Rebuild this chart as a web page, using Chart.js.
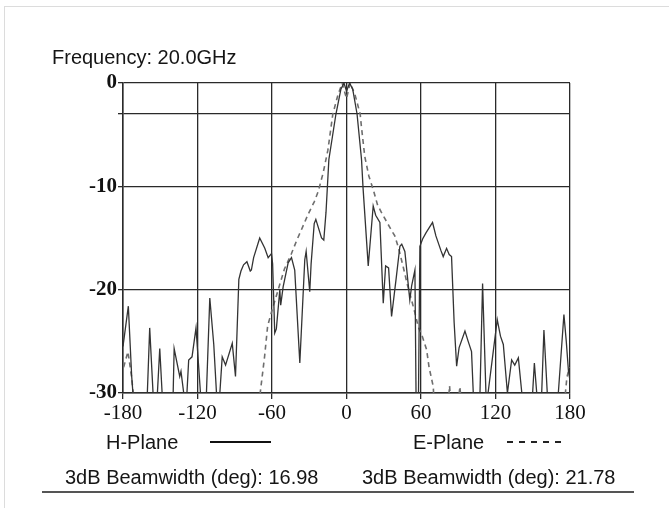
<!DOCTYPE html>
<html>
<head>
<meta charset="utf-8">
<script src="https://cdn.jsdelivr.net/npm/chart.js@4"></script>
<style>
  html, body { margin: 0; padding: 0; background: #fff; }
  #wrap { position: relative; width: 669px; height: 508px; overflow: hidden; background: #fff; }
  #frame { position: absolute; left: 4px; top: 6px; width: 700px; height: 600px; border-left: 1px solid #dcdcdc; border-top: 1px solid #dcdcdc; }
  canvas { position: absolute; left: 0; top: 0; }
  .t { position: absolute; font-family: "Liberation Sans", Arial, sans-serif; font-size: 20px; line-height: 24px; color: #151515; white-space: nowrap; }
  #rule { position: absolute; left: 42px; top: 491px; width: 592px; height: 2px; background: #555; }
</style>
</head>
<body>
<div id="wrap">
  <div id="frame"></div>
  <canvas id="c" width="669" height="508"></canvas>
  <div class="t" id="title" style="left:52px; top:45px;">Frequency: 20.0GHz</div>
  <div class="t" style="left:106px; top:430px;">H-Plane</div>
  <svg style="position:absolute; left:205px; top:436px;" width="70" height="12"><line x1="5" y1="6" x2="66" y2="6" stroke="#111" stroke-width="2"/></svg>
  <div class="t" style="left:413px; top:430px;">E-Plane</div>
  <svg style="position:absolute; left:503px; top:436px;" width="70" height="12"><line x1="4" y1="6" x2="62" y2="6" stroke="#222" stroke-width="2" stroke-dasharray="6,6"/></svg>
  <div class="t" style="left:65px; top:465px;">3dB Beamwidth (deg): 16.98</div>
  <div class="t" style="left:362px; top:465px;">3dB Beamwidth (deg): 21.78</div>
  <div id="rule"></div>
</div>
<script>
// ---- data ----
const xTicks = [-180, -120, -60, 0, 60, 120, 180];
const yGridValues = [-30, -20, -10, -3, 0];
const yLabelValues = [-30, -20, -10, 0];

const hPlaneAngles = [
  -180, -175.7, -173, -172, -160.4, -158.5, -155.8, -152.3, -150.4, -148.5,
  -139.6, -138.8, -134.3, -133.3, -131.1, -128.5, -127.1, -124.4, -121.2, -117.6,
  -112.8, -110.1, -106.9, -104.7, -102, -100.1, -97.4, -92, -89.4, -86.7,
  -85, -82.9, -80.2, -77.5, -76.6, -74.8, -69.9, -65.8, -63.1, -60.4,
  -59.5, -57.8, -56.5, -53.7, -53, -51, -47, -44.3, -41.7, -37.6,
  -33.6, -32.5, -29.6, -28.5, -26, -24.7, -20.1, -18.3, -16.5, -14.2,
  -8.5, -4.5, -2, 0, 2.5, 5, 8.5, 12.1, 13.3, 17.5,
  21.5, 23.5, 26.9, 29.6, 31.5, 33.9, 36.3, 40, 43, 44.5,
  47, 51, 52.5, 55.1, 56, 58, 59.1, 61.3, 64, 69.3,
  72, 76, 77.9, 80.6, 82.7, 84.6, 86.7, 88.7, 90.7, 95.4,
  98, 100.7, 102.1, 107.5, 109.6, 112.3, 114, 121.4, 124, 126.3,
  129.6, 133, 135.5, 138.4, 141.2, 149.9, 151.3, 153.2, 157.2, 159,
  161.7, 170.6, 175.1, 177, 178.7, 180
];
const hPlaneDb = [
  -25.5, -21.6, -28.4, -30, -30, -23.7, -30, -30, -25.7, -30,
  -30, -25.7, -28.4, -27.9, -30, -30, -26.8, -26.5, -23.7, -30,
  -30, -20.8, -25.3, -30, -30, -26.5, -27.3, -25.2, -28.4, -19,
  -18.2, -17.6, -17.3, -18.2, -18.1, -16.9, -15.0, -16.0, -16.9, -16.5,
  -17.5, -24.2, -23.8, -20, -21.5, -19.7, -17.4, -16.9, -18.1, -27.1,
  -17.1, -16.3, -20.2, -17.5, -13.6, -13.2, -15.0, -15.2, -12.5, -7.4,
  -3, -0.6, 0, -0.8, 0, -0.6, -3, -7.4, -10.1, -17.7,
  -11.9, -12.8, -13.5, -21.3, -17.7, -17.9, -22.6, -18.9, -15.8, -15.6,
  -16.3, -21, -19.6, -18.1, -30, -30, -15.8, -15.1, -14.5, -13.5,
  -14.8, -16.2, -16.8, -16, -16.6, -16.8, -23.2, -27.4, -25.6, -24.0,
  -25.0, -26, -30, -30, -19.4, -30, -30, -22.9, -24.5, -25.3,
  -30, -26.8, -27.3, -26.6, -30, -30, -27.1, -30, -30, -23.9,
  -30, -30, -22.4, -25, -27.8, -28.8
];

const ePlaneAngles = [
  -179.5, -176, -173, -171, null,
  -70.5, -68.5, -66, -63.5, -60, -55, -50, -44.3, -40, -36.3,
  -30.9, -26, -22.8, -18.8, -15, -11, -7, -3.5, 0, 3,
  7, 11, 12, 14.7, 18, 21.5, 25, 28, 32.2, 35,
  38.9, 42, 45.7, 49, 52.4, 55, 57.8, 61, 64.5, 66.5,
  69.9, 70.5, null, 82, 83, 84, null, 90, 91.3, 92.5,
  null, 175.5, 177.5, 179.5
];
const ePlaneDb = [
  -27.5, -26, -28.5, -31, null,
  -31, -29, -26.5, -23.5, -22, -20, -18, -16.5, -15.2, -14.2,
  -12.7, -11.5, -10.5, -8.7, -6.5, -3, -1.2, 0, -1.5, 0,
  -1.2, -3, -4.2, -7.1, -9, -10.3, -11.8, -12.5, -13.4, -14,
  -14.8, -16, -17.8, -19.5, -21, -22.2, -23.6, -24.5, -25.8, -27.5,
  -29.4, -31, null, -31, -29.3, -31, null, -31, -29.4, -31,
  null, -31, -28.5, -27.5
];

// ---- build chart ----
function toPointsGap(xs, ys) {
  const pts = [];
  xs.forEach((x, i) => {
    if (x === null) { pts.push({ x: (xs[i - 1] + xs[i + 1]) / 2, y: null }); }
    else pts.push({ x: x, y: ys[i] });
  });
  return pts;
}

const gridColor = '#2a2a2a';
new Chart(document.getElementById('c'), {
  type: 'line',
  data: {
    datasets: [
      {
        label: 'H-Plane',
        data: toPointsGap(hPlaneAngles, hPlaneDb),
        borderColor: '#333333',
        borderWidth: 1.3,
        pointRadius: 0,
        tension: 0,
        fill: false
      },
      {
        label: 'E-Plane',
        data: toPointsGap(ePlaneAngles, ePlaneDb),
        borderColor: '#6e6e6e',
        borderWidth: 1.6,
        borderDash: [5, 4],
        pointRadius: 0,
        tension: 0,
        fill: false,
        spanGaps: false
      }
    ]
  },
  options: {
    responsive: false,
    animation: false,
    devicePixelRatio: 1,
    layout: { padding: { left: 0, top: 83, right: 99, bottom: 85 } },
    plugins: { legend: { display: false }, tooltip: { enabled: false } },
    scales: {
      x: {
        type: 'linear',
        min: -180,
        max: 180,
        afterBuildTicks: (s) => { s.ticks = xTicks.map(v => ({ value: v })); },
        afterFit: (s) => { s.height = 30; },
        ticks: {
          color: '#111',
          padding: 2,
          maxRotation: 0,
          autoSkip: false,
          font: { family: '"Liberation Serif", "Times New Roman", serif', size: 21 },
          callback: (v) => String(v)
        },
        grid: { color: gridColor, lineWidth: 1.3, tickLength: 6, drawTicks: true },
        border: { color: gridColor, width: 1.5 }
      },
      y: {
        type: 'linear',
        min: -30,
        max: 0,
        afterBuildTicks: (s) => { s.ticks = yGridValues.map(v => ({ value: v })); },
        afterFit: (s) => { s.width = 123; },
        ticks: {
          color: '#111',
          padding: 1,
          autoSkip: false,
          font: { family: '"Liberation Serif", "Times New Roman", serif', size: 21, weight: 'bold' },
          callback: (v) => (yLabelValues.includes(v) ? String(v) : '')
        },
        grid: { color: gridColor, lineWidth: 1.3, tickLength: 5 },
        border: { color: gridColor, width: 1.5 }
      }
    }
  }
});
</script>
</body>
</html>
